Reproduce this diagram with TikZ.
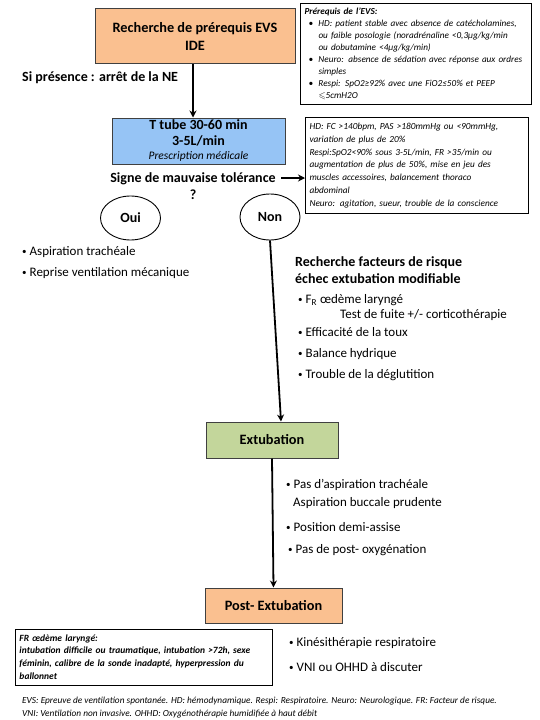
\documentclass[tikz,border=0pt]{standalone}
\usepackage{fontspec}
\usepackage{amssymb}
\setmainfont{Carlito}
\usetikzlibrary{arrows.meta,shapes.geometric}
\definecolor{orangebox}{RGB}{250,192,144}
\definecolor{bluebox}{RGB}{150,196,245}
\definecolor{greenbox}{RGB}{195,214,155}
\definecolor{boxline}{RGB}{64,64,64}
\newcommand{\bul}{\makebox[14pt][l]{\hspace{4pt}•}}
\newcommand{\ind}{\hspace{14pt}}
\newcommand{\mb}{\raisebox{0.8pt}{\fontsize{9}{9}\selectfont•}\hspace{3pt}}
\tikzset{
  flowbox/.style={draw=boxline, line width=1pt, align=center, font=\fontsize{14.3}{17}\selectfont\bfseries, inner sep=0pt},
  infobox/.style={draw=black, line width=1pt, align=left, font=\fontsize{9.2}{11.9}\selectfont\itshape, inner xsep=4pt, inner ysep=3pt, anchor=north west},
  label/.style={font=\fontsize{14}{17}\selectfont\bfseries, inner sep=0pt, align=center},
  btxt/.style={font=\fontsize{13}{16}\selectfont, inner sep=0pt, anchor=west},
  oval/.style={draw=black, line width=0.9pt, ellipse, font=\fontsize{14}{17}\selectfont\bfseries, inner sep=0pt},
  arr/.style={line width=1.8pt, -{Stealth[length=7pt,width=7pt]}},
  foot/.style={font=\fontsize{9.3}{13}\selectfont\itshape, inner sep=0pt, anchor=west}
}
\begin{document}
\begin{tikzpicture}[x=1pt,y=-1pt]
\useasboundingbox (0,0) rectangle (540,720);
\fill[white] (0,0) rectangle (540,720);

% main flow boxes
\node[flowbox, fill=orangebox, minimum width=200pt, minimum height=55pt] (evs) at (195,36) {Recherche de prérequis EVS\\[1pt]IDE};
\node[label, anchor=west] (ne) at (22,78) {Si présence : arrêt de la NE};
\node[flowbox, fill=bluebox, minimum width=173pt, minimum height=46pt, font=\fontsize{14}{15.5}\selectfont\bfseries] (tt) at (198.5,141)
  {T tube 30-60 min\\3-5L/min\\[-1pt]{\fontsize{11.5}{13}\selectfont\mdseries\itshape Prescription médicale}};
\node[label] (signe) at (193,186) {Signe de mauvaise tolérance\\?};

% info boxes
\node[infobox, text width=223pt] (pre) at (300,3) {%
\begin{tabular}{@{}l@{}}
\textbf{Prérequis de l’EVS:}\\
\bul HD: patient stable avec absence de catécholamines,\\
\ind ou faible posologie (noradrénaline <0,3µg/kg/min\\
\ind ou dobutamine <4µg/kg/min)\\
\bul Neuro: absence de sédation avec réponse aux ordres\\
\ind simples\\
\bul Respi: SpO2≥92\% avec une FiO2≤50\% et PEEP\\
\ind $\leqslant$5cmH2O
\end{tabular}};
\node[infobox, text width=215pt, font=\fontsize{9.3}{12.8}\selectfont\itshape] (crit) at (305,117) {%
\begin{tabular}{@{}l@{}}
HD: FC >140bpm, PAS >180mmHg ou <90mmHg,\\
variation de plus de 20\%\\
Respi:SpO2<90\% sous 3-5L/min, FR >35/min ou\\
augmentation de plus de 50\%, mise en jeu des\\
muscles accessoires, balancement thoraco\\
abdominal\\
Neuro: agitation, sueur, trouble de la conscience
\end{tabular}};

\coordinate (sa) at (281,178);
\draw[arr] (evs.south -| 193,0) -- (tt.north -| 193,0);
\draw[arr] (sa) -- (crit.west |- sa);

% ovals
\node[oval, minimum width=60pt, minimum height=44pt] (oui) at (130.5,218) {Oui};
\node[oval, minimum width=60pt, minimum height=46pt] (non) at (270,217) {Non};

\node[btxt] (asp) at (22,252) {\mb Aspiration trachéale};
\node[btxt] (rep) at (22,273) {\mb Reprise ventilation mécanique};

% risk factors
\node[label, anchor=north west, align=left, font=\fontsize{14}{17}\selectfont\bfseries] (rf) at (295,256) {Recherche facteurs de risque\\échec extubation modifiable};
\node[btxt] (fr) at (298,300) {\mb F\textsubscript{R} œdème laryngé};
\node[btxt] (fuite) at (340,315) {Test de fuite +/- corticothérapie};
\node[btxt] (toux) at (298,332) {\mb Efficacité de la toux};
\node[btxt] (bal) at (298,354) {\mb Balance hydrique};
\node[btxt] (degl) at (298,375) {\mb Trouble de la déglutition};

% extubation
\node[flowbox, fill=greenbox, minimum width=132pt, minimum height=36pt] (ext) at (272,440) {Extubation};
\draw[arr] (non.south) -- ([xshift=9pt]ext.north);

\node[btxt] (pasasp) at (286,485) {\mb Pas d’aspiration trachéale};
\node[btxt] (bucc) at (293,503) {Aspiration buccale prudente};
\node[btxt] (pos) at (286,527) {\mb Position demi-assise};
\node[btxt] (oxy) at (288,550) {\mb Pas de post- oxygénation};

\node[flowbox, fill=orangebox, minimum width=137pt, minimum height=35pt] (post) at (273.5,605.5) {Post- Extubation};
\draw[arr] (ext.south) -- (post.north);

\node[infobox, text width=249pt, font=\fontsize{9.5}{12.6}\selectfont\bfseries\itshape, inner ysep=3pt] (fro) at (15,629) {%
\begin{tabular}{@{}l@{}}
FR œdème laryngé:\\
intubation difficile ou traumatique, intubation >72h, sexe\\
féminin, calibre de la sonde inadapté, hyperpression du\\
ballonnet
\end{tabular}};

\node[btxt] (kine) at (289,643) {\mb Kinésithérapie respiratoire};
\node[btxt] (vni) at (289,667) {\mb VNI ou OHHD à discuter};

\node[foot] (f1) at (22,701) {EVS: Epreuve de ventilation spontanée. HD: hémodynamique. Respi: Respiratoire. Neuro: Neurologique. FR: Facteur de risque.};
\node[foot] (f2) at (22,714) {VNI: Ventilation non invasive. OHHD: Oxygénothérapie humidifiée à haut débit};
\end{tikzpicture}
\end{document}
